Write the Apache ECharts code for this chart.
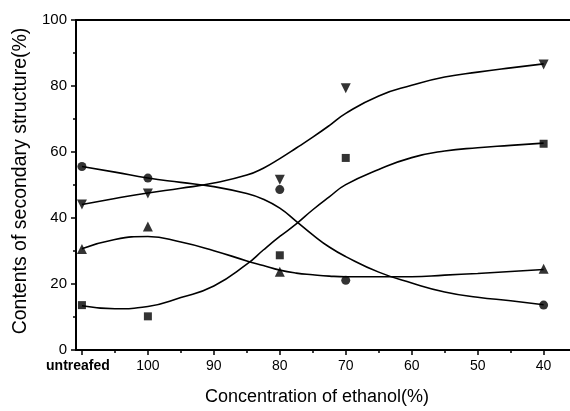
<!DOCTYPE html>
<html>
<head>
<meta charset="utf-8">
<script src="https://cdn.jsdelivr.net/npm/echarts@6/dist/echarts.min.js"></script>
<style>html,body{margin:0;padding:0;background:#fff}#c{width:570px;height:411px}</style>
</head>
<body>
<div id="c"></div>
<script>
// x positions: "untreafed" sample is placed at 110 on the ethanol axis
var pointX = [110, 100, 80, 70, 40];
var xTicks = [110, 100, 90, 80, 70, 60, 50, 40];
var xMinorTicks = [105, 95, 85, 75, 65, 55, 45];
var xTickLabels = ['untreafed', '100', '90', '80', '70', '60', '50', '40'];

// measured points
var circlePts = [55.6, 52.1, 48.6, 21.1, 13.6];
var triDownPts = [44.1, 47.4, 51.6, 79.3, 86.5];
var triUpPts = [30.6, 37.4, 23.7, null, 24.6];
var squarePts = [13.6, 10.2, 28.7, 58.2, 62.5];

// fitted curves
var curveX = [110, 105, 100, 95, 90, 85, 82.5, 80, 77.5, 75, 72.5, 70, 65, 60, 55, 50, 45, 40];
var circleCurve = [55.6, 53.9, 52.1, 50.8, 49.5, 47.4, 45.7, 43.0, 39.0, 34.9, 31.2, 28.3, 23.6, 20.3, 17.6, 16.0, 14.9, 13.7];
var triDownCurve = [44.1, 45.9, 47.6, 49.0, 50.6, 53.0, 55.1, 58.0, 61.2, 64.5, 68.0, 71.7, 77.0, 80.2, 82.7, 84.2, 85.5, 86.7];
var triUpCurve = [30.7, 33.5, 34.4, 32.7, 30.1, 27.0, 25.6, 24.2, 23.3, 22.8, 22.4, 22.2, 22.2, 22.2, 22.7, 23.2, 23.8, 24.4];
var squareCurve = [13.4, 12.5, 13.2, 15.9, 19.4, 26.0, 30.3, 34.4, 38.2, 42.5, 46.4, 50.1, 54.7, 58.3, 60.3, 61.3, 62.0, 62.7];

function pairs(xs, ys) { return xs.map(function (x, i) { return [x, ys[i]]; }); }

var FONT = 'Liberation Sans, Arial, sans-serif';
var XMIN = 36, XMAX = 110.9;

function curve(ys) {
  return { type: 'line', data: pairs(curveX, ys), smooth: 0.5, showSymbol: false, silent: true,
    lineStyle: { color: '#000', width: 1.6 }, z: 2 };
}
function pts(ys, symbol, size, rot) {
  return { type: 'scatter', data: pairs(pointX, ys).filter(function (p) { return p[1] != null; }),
    symbol: symbol, symbolSize: size, symbolRotate: rot || 0,
    itemStyle: { color: '#000' }, z: 3 };
}

var chart = echarts.init(document.getElementById('c'));
chart.setOption({
  backgroundColor: '#fff',
  animation: false,
  grid: { left: 76, right: 0, top: 20, bottom: 58 },
  xAxis: [
    { type: 'value', inverse: true, min: XMIN, max: XMAX, position: 'bottom',
      name: 'Concentration of ethanol(%)', nameLocation: 'middle', nameGap: 38,
      nameTextStyle: { fontFamily: FONT, fontSize: 18, color: '#000', padding: [0, 12, 0, 0] },
      axisLine: { lineStyle: { color: '#000', width: 2 } },
      axisTick: { show: true, customValues: xTicks, length: 5, lineStyle: { color: '#000', width: 1.5 } },
      axisLabel: { customValues: xTicks, margin: 9, color: '#000', fontFamily: FONT, fontSize: 14,
        formatter: function (v) { var i = xTicks.indexOf(v); return i === 0 ? '{u|' + xTickLabels[0] + '}' : xTickLabels[i]; },
        rich: { u: { fontFamily: FONT, fontSize: 14, fontWeight: 'bold', color: '#000', padding: [0, 8, 0, 0] } } },
      splitLine: { show: false } },
    { type: 'value', inverse: true, min: XMIN, max: XMAX, position: 'top',
      axisLine: { show: true, lineStyle: { color: '#000', width: 2 } },
      axisTick: { show: false }, axisLabel: { show: false }, splitLine: { show: false } },
    { type: 'value', inverse: true, min: XMIN, max: XMAX, position: 'bottom',
      axisLine: { show: false },
      axisTick: { show: true, customValues: xMinorTicks, length: 3, lineStyle: { color: '#000', width: 1.5 } },
      axisLabel: { show: false }, splitLine: { show: false } }
  ],
  yAxis: {
    type: 'value', min: 0, max: 100, interval: 20,
    name: 'Contents of secondary structure(%)', nameLocation: 'middle', nameGap: 45,
    nameTextStyle: { fontFamily: FONT, fontSize: 19.5, color: '#000', padding: [0, 0, 0, 8] },
    axisLine: { show: true, lineStyle: { color: '#000', width: 2 } },
    axisTick: { show: true, length: 5, lineStyle: { color: '#000', width: 1.5 } },
    minorTick: { show: true, splitNumber: 2, length: 3, lineStyle: { color: '#000', width: 1.5 } },
    axisLabel: { margin: 9, color: '#000', fontFamily: FONT, fontSize: 15 },
    splitLine: { show: false }
  },
  series: [
    curve(circleCurve), curve(triDownCurve), curve(triUpCurve), curve(squareCurve),
    pts(triUpPts, 'triangle', 10),
    pts(squarePts, 'rect', 8),
    pts(triDownPts, 'triangle', 10, 180),
    pts(circlePts, 'circle', 9)
  ]
});
</script>
</body>
</html>
